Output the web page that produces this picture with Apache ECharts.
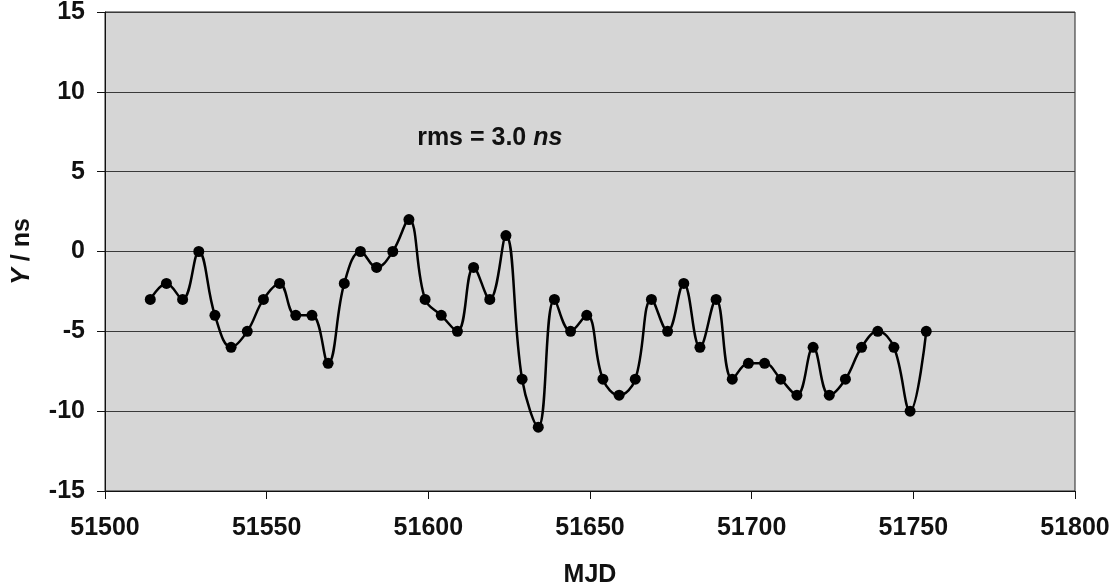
<!DOCTYPE html>
<html>
<head>
<meta charset="utf-8">
<script src="https://cdn.jsdelivr.net/npm/echarts@6/dist/echarts.min.js"></script>
<style>
html,body{margin:0;padding:0;background:#fff;}
#chart{width:1118px;height:587px;}
</style>
</head>
<body>
<div id="chart"></div>
<script>
const mjd = [51514,51519,51524,51529,51534,51539,51544,51549,51554,51559,
             51564,51569,51574,51579,51584,51589,51594,51599,51604,51609,
             51614,51619,51624,51629,51634,51639,51644,51649,51654,51659,
             51664,51669,51674,51679,51684,51689,51694,51699,51704,51709,
             51714,51719,51724,51729,51734,51739,51744,51749,51754];
const yNs = [-3,-2,-3,0,-4,-6,-5,-3,-2,-4,
             -4,-7,-2,0,-1,0,2,-3,-4,-5,
             -1,-3,1,-8,-11,-3,-5,-4,-8,-9,
             -8,-3,-5,-2,-6,-3,-8,-7,-7,-8,
             -9,-6,-9,-8,-6,-5,-6,-10,-5];
const xTicks = [51500,51550,51600,51650,51700,51750,51800];
const yTicks = [-15,-10,-5,0,5,10,15];
const annotation = 'rms = 3.0 ';

const points = mjd.map((m,i)=>[m,yNs[i]]);
const font = 'Liberation Sans, Arial, Helvetica, sans-serif';
const fs = 25;
const chart = echarts.init(document.getElementById('chart'));
chart.setOption({
  backgroundColor:'#ffffff',
  animation:false,
  grid:{left:105,right:43,top:12,bottom:96,containLabel:false,outerBoundsMode:'none',
    show:true,backgroundColor:'#d6d6d6',borderColor:'#222',borderWidth:1},
  xAxis:{
    type:'value',min:xTicks[0],max:xTicks[xTicks.length-1],interval:50,
    name:'MJD',nameLocation:'middle',nameGap:72,
    nameTextStyle:{fontFamily:font,fontWeight:'bold',fontSize:fs,color:'#111'},
    axisLine:{show:true,onZero:false,lineStyle:{color:'#111',width:1}},
    axisTick:{show:true,length:8,inside:false,lineStyle:{color:'#111'}},
    axisLabel:{margin:25,fontFamily:font,fontWeight:'bold',fontSize:fs,color:'#111',
      formatter:(v)=>String(v)},
    splitLine:{show:false}
  },
  yAxis:{
    type:'value',min:yTicks[0],max:yTicks[yTicks.length-1],interval:5,
    name:'{i|Y} / ns',nameLocation:'middle',nameGap:70,
    nameTextStyle:{fontFamily:font,fontWeight:'bold',fontSize:fs,color:'#111',
      rich:{i:{fontStyle:'italic',fontFamily:font,fontWeight:'bold',fontSize:fs,color:'#111'}}},
    axisLine:{show:true,onZero:false,lineStyle:{color:'#111',width:1}},
    axisTick:{show:true,length:8,inside:false,lineStyle:{color:'#111'}},
    axisLabel:{margin:20,fontFamily:font,fontWeight:'bold',fontSize:fs,color:'#111'},
    splitLine:{show:true,lineStyle:{color:'#3a3a3a',width:1}}
  },
  series:[{
    type:'line',data:points,smooth:0.4,
    symbol:'circle',symbolSize:11,
    lineStyle:{color:'#000',width:2.5},
    itemStyle:{color:'#000'},
    markPoint:{silent:true,symbol:'rect',symbolSize:0,
      data:[{coord:[51619,7.1],label:{show:true,position:'inside',
        formatter:annotation+'{i|ns}',
        fontFamily:font,fontWeight:'bold',fontSize:fs,color:'#111',
        rich:{i:{fontStyle:'italic',fontFamily:font,fontWeight:'bold',fontSize:fs,color:'#111'}}}}]}
  }]
});
</script>
</body>
</html>
